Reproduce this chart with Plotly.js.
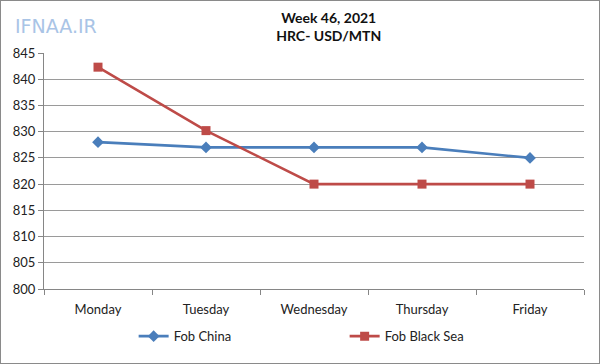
<!DOCTYPE html>
<html>
<head>
<meta charset="utf-8">
<script src="https://cdn.plot.ly/plotly-3.0.1.min.js"></script>
<style>
html,body{margin:0;padding:0;background:#fff;}
#chart{width:600px;height:364px;box-sizing:border-box;border:1px solid #8a8a8a;}
</style>
</head>
<body>
<div id="chart"></div>
<script>
const days = ["Monday", "Tuesday", "Wednesday", "Thursday", "Friday"];
const fobChina = [828, 827, 827, 827, 825];
const fobBlackSea = [842.3, 830.2, 820, 820, 820];
const yTicks = [800, 805, 810, 815, 820, 825, 830, 835, 840, 845];

const font = "Lato, 'Open Sans', sans-serif";

const traces = [
  {
    x: days, y: fobChina, name: "Fob China", type: "scatter", mode: "lines+markers",
    line: {color: "#4a7ebb", width: 2.6},
    marker: {symbol: "diamond", size: 9, color: "#4a7ebb"}
  },
  {
    x: days, y: fobBlackSea, name: "Fob Black Sea", type: "scatter", mode: "lines+markers",
    line: {color: "#be4b48", width: 2.6},
    marker: {symbol: "square", size: 9, color: "#be4b48"}
  }
];

const layout = {
  width: 598, height: 362,
  margin: {l: 43, r: 15, t: 52, b: 74},
  paper_bgcolor: "#fff", plot_bgcolor: "#fff",
  font: {family: font, size: 13, color: "#222"},
  showlegend: true,
  legend: {
    orientation: "h", x: 0.166, xanchor: "left", y: -0.2, yanchor: "middle",
    entrywidth: 166, entrywidthmode: "pixels", itemwidth: 30,
    font: {family: font, size: 13, color: "#222"}
  },
  title: {
    text: "<b>Week 46, 2021</b><br><b>HRC- USD/MTN</b>",
    x: 0.548, xanchor: "center", y: 0.94, yanchor: "middle",
    font: {family: font, size: 14, color: "#111"}
  },
  xaxis: {
    type: "category", tickson: "boundaries", ticks: "outside", ticklen: 5,
    tickcolor: "#868686", showline: true, linecolor: "#868686", linewidth: 1,
    showgrid: false, range: [-0.5, 4.5], fixedrange: true, ticklabelstandoff: 8
  },
  yaxis: {
    range: [800, 845], tickvals: yTicks, ticks: "outside", ticklen: 5,
    tickcolor: "#868686", showline: true, linecolor: "#868686", linewidth: 1,
    showgrid: true, gridcolor: "#9a9a9a", gridwidth: 1, zeroline: false,
    fixedrange: true
  },
  annotations: [{
    xref: "paper", yref: "paper", x: -0.058, y: 1.115, xanchor: "left", yanchor: "middle",
    text: "IFNAA.IR", showarrow: false,
    font: {family: "'DejaVu Sans', sans-serif", size: 19, color: "#a9c4e6"}
  }]
};

Plotly.newPlot("chart", traces, layout, {displayModeBar: false, staticPlot: true});
</script>
</body>
</html>
